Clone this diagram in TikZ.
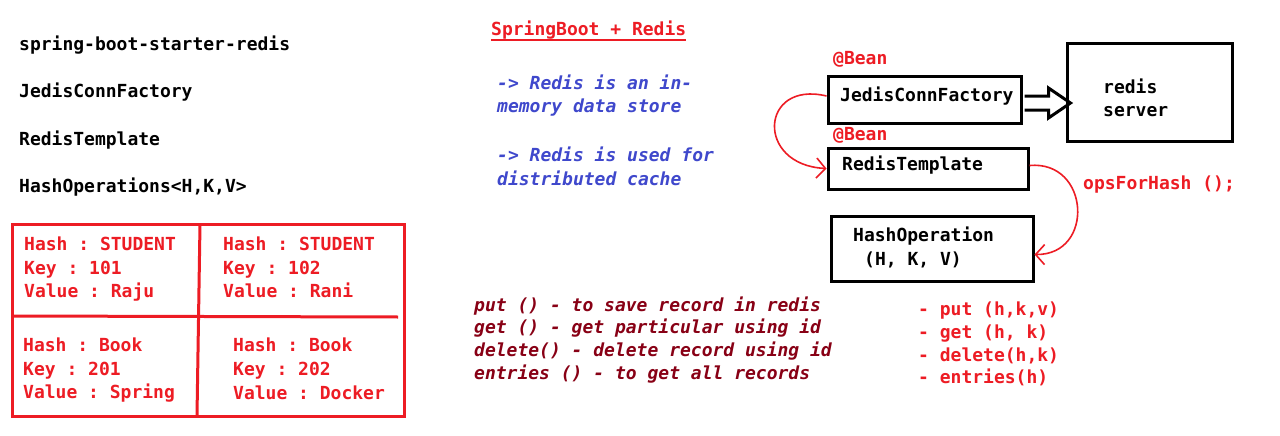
\documentclass[tikz,border=0pt]{standalone}
\usepackage{fontspec}
\setmonofont{DejaVu Sans Mono}
\usetikzlibrary{arrows.meta}
\definecolor{paintred}{RGB}{237,28,36}
\definecolor{winered}{RGB}{136,0,21}
\definecolor{indigo}{RGB}{63,72,204}
\newcommand{\mono}{\fontsize{18}{22}\selectfont\ttfamily\bfseries}
\tikzset{
  lbl/.style={anchor=base west,inner sep=0pt,font=\mono},
  rlbl/.style={lbl,text=paintred},
  blbl/.style={lbl,text=indigo,font=\mono\itshape},
  wlbl/.style={lbl,text=winered,font=\mono\itshape},
  cbox/.style={draw,line width=3pt,inner sep=0pt},
  grid/.style={paintred,line width=3pt},
  call/.style={paintred,line width=1.6pt,-{Straight Barb[length=9pt,width=20pt]}},
  hollow/.style={line width=3pt,line join=miter}
}
\begin{document}
\begin{tikzpicture}[x=1pt,y=-1pt]
  \useasboundingbox[fill=white] (0,0) rectangle (1280,436);
  % left column
  \node[lbl] (starter) at (19,50.5) {spring-boot-starter-redis};
  \node[lbl] (factory) at (19,98) {JedisConnFactory};
  \node[lbl] (template) at (19,145) {RedisTemplate};
  \node[lbl] (hashops) at (19,192) {HashOperations<H,K,V>};
  % hash table
  \draw[grid] (12,224) rectangle (404,416);
  \draw[grid] (200,224) -- (197,416);
  \draw[grid] (12,316) -- (398,317);
  \node[rlbl] (h1) at (24,250.5) {Hash : STUDENT}; \node[rlbl] (k1) at (24,274) {Key : 101}; \node[rlbl] (v1) at (24,297.5) {Value : Raju};
  \node[rlbl] (h2) at (223,250.5) {Hash : STUDENT}; \node[rlbl] (k2) at (223,274) {Key : 102}; \node[rlbl] (v2) at (223,297.5) {Value : Rani};
  \node[rlbl] (h3) at (23,351) {Hash : Book}; \node[rlbl] (k3) at (23,375) {Key : 201}; \node[rlbl] (v3) at (23,398.5) {Value : Spring};
  \node[rlbl] (h4) at (233,351.5) {Hash : Book}; \node[rlbl] (k4) at (233,375.5) {Key : 202}; \node[rlbl] (v4) at (233,399) {Value : Docker};
  % title and notes
  \node[rlbl] (title) at (491,36) {SpringBoot + Redis};
  \draw[paintred,line width=2pt] (title.south west) -- (title.south east);
  \node[blbl] (n1) at (497,89) {-> Redis is an in-};
  \node[blbl] (n2) at (497,113) {memory data store};
  \node[blbl] (n3) at (497,161) {-> Redis is used for};
  \node[blbl] (n4) at (497,185) {distributed cache};
  \node[wlbl] (m1) at (474,311) {put () - to save record in redis};
  \node[wlbl] (m2) at (474,333) {get () - get particular using id};
  \node[wlbl] (m3) at (474,356) {delete() - delete record using id};
  \node[wlbl] (m4) at (474,379) {entries () - to get all records};
  % beans
  \node[cbox,minimum width=193pt,minimum height=46pt] (jcf) at (924.5,100) {};
  \node[cbox,minimum width=165pt,minimum height=97pt] (srv) at (1149.5,92.5) {};
  \node[cbox,minimum width=200pt,minimum height=41pt] (tpl) at (928,168.5) {};
  \node[cbox,minimum width=202pt,minimum height=65pt] (hops) at (932,248.5) {};
  \node[rlbl] (bean1) at (833,65) {@Bean};
  \node[rlbl] (bean2) at (833,140) {@Bean};
  \node[lbl] (jcftxt) at (840,101.5) {JedisConnFactory};
  \node[lbl] (srvtxt1) at (1103,93) {redis};
  \node[lbl] (srvtxt2) at (1103,116) {server};
  \node[lbl] (tpltxt) at (842,170) {RedisTemplate};
  \node[lbl] (hopstxt1) at (853,241.5) {HashOperation};
  \node[lbl] (hopstxt2) at (864,265) {(H, K, V)};
  \node[rlbl] (ops) at (1083,189) {opsForHash ();};
  \draw[hollow] (jcf.east) ++(2,-4) -- ++(24,0) -- ++(0,-8) -- ++(22,15) -- ++(-22,15) -- ++(0,-8) -- ++(-24,0);
  \draw[call] ([yshift=4pt]jcf.west) .. controls (760,80) and (755,165) .. (tpl.west);
  \draw[call] ([yshift=3pt]tpl.east) .. controls (1090,160) and (1095,255) .. ([yshift=-6pt]hops.east);
  % hash operations
  \node[rlbl] (put) at (918,315) {- put (h,k,v)};
  \node[rlbl] (get) at (918,338) {- get (h, k)};
  \node[rlbl] (del) at (918,361) {- delete(h,k)};
  \node[rlbl] (ent) at (918,383) {- entries(h)};
\end{tikzpicture}
\end{document}
